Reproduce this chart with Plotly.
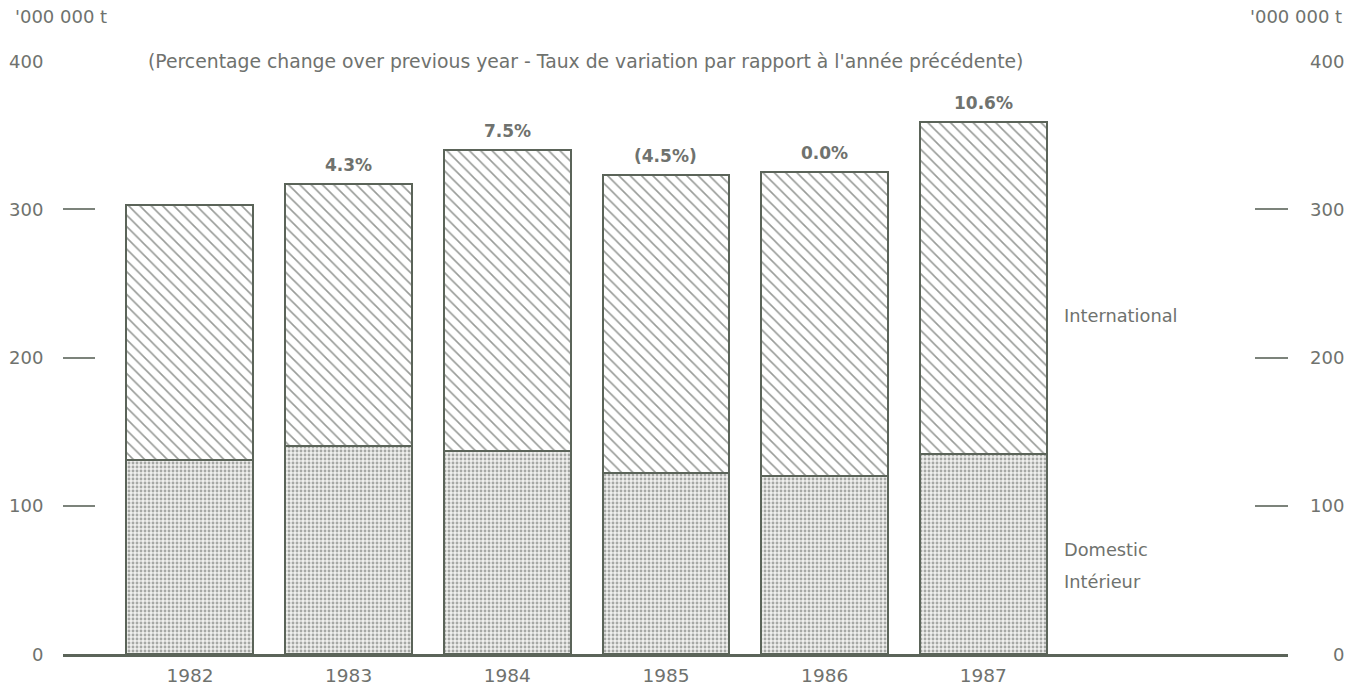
import plotly.graph_objects as go

years = [1982, 1983, 1984, 1985, 1986, 1987]
domestic = [131, 140, 137, 122, 120, 135]
international = [172, 177, 203, 201, 205, 224]
pct_labels = ["", "4.3%", "7.5%", "(4.5%)", "0.0%", "10.6%"]
y_ticks = [0, 100, 200, 300, 400]
unit_label = "'000 000 t"
subtitle = "(Percentage change over previous year - Taux de variation par rapport à l'année précédente)"

LINE = "#5b6459"
TEXT = "#6f726e"
FONT = "DejaVu Sans, Liberation Sans, sans-serif"

totals = [d + i for d, i in zip(domestic, international)]

# body margin removed via post_script, so figure pixels == window pixels
W, H = 1359, 689
ML, MR, MT, MB = 63, 1359 - 1288, 61, 689 - 654
pw = W - ML - MR
ph = H - MT - MB


def px(xs):
    return (xs - ML) / pw


def py(ys):
    return (H - MB - ys) / ph


fig = go.Figure()
fig.add_trace(go.Bar(
    x=years, y=domestic, width=0.8, name="Domestic",
    marker=dict(color="white", line=dict(color=LINE, width=2),
                pattern=dict(shape=".", fgcolor="#5e625d", bgcolor="#efefed",
                             size=4, solidity=0.4)),
))
fig.add_trace(go.Bar(
    x=years, y=international, width=0.8, name="International",
    marker=dict(color="white", line=dict(color=LINE, width=2),
                pattern=dict(shape="\\", fgcolor="#323831", bgcolor="white",
                             size=8, solidity=0.2)),
))
fig.add_trace(go.Scatter(x=[years[0]], y=[0], yaxis="y2", mode="markers",
                         marker=dict(opacity=0), showlegend=False, hoverinfo="skip"))

annotations = []
for x, t, lab in zip(years, totals, pct_labels):
    if lab:
        annotations.append(dict(x=x, y=t, xref="x", yref="y", text=f"<b>{lab}</b>",
                                showarrow=False, yanchor="bottom", yshift=7,
                                font=dict(size=17, color=TEXT, family=FONT)))
for v in y_ticks:
    annotations.append(dict(x=px(45), xref="paper", y=v, yref="y", text=str(v), showarrow=False,
                            xanchor="right", yanchor="middle",
                            font=dict(size=18, color=TEXT, family=FONT)))
    annotations.append(dict(x=px(1346), xref="paper", y=v, yref="y", text=str(v), showarrow=False,
                            xanchor="right", yanchor="middle",
                            font=dict(size=18, color=TEXT, family=FONT)))
annotations += [
    dict(x=px(13), y=py(16), xref="paper", yref="paper", text=unit_label, showarrow=False,
         xanchor="left", yanchor="middle", font=dict(size=18, color=TEXT, family=FONT)),
    dict(x=px(1344), y=py(16), xref="paper", yref="paper", text=unit_label, showarrow=False,
         xanchor="right", yanchor="middle", font=dict(size=18, color=TEXT, family=FONT)),
    dict(x=px(585), y=py(61), xref="paper", yref="paper", text=subtitle, showarrow=False,
         xanchor="center", yanchor="middle", font=dict(size=18.8, color=TEXT, family=FONT)),
    dict(x=px(1062), y=py(315), xref="paper", yref="paper", text="International", showarrow=False,
         xanchor="left", yanchor="middle", font=dict(size=17.8, color=TEXT, family=FONT)),
    dict(x=px(1062), y=py(549), xref="paper", yref="paper", text="Domestic", showarrow=False,
         xanchor="left", yanchor="middle", font=dict(size=17.8, color=TEXT, family=FONT)),
    dict(x=px(1062), y=py(581), xref="paper", yref="paper", text="Intérieur", showarrow=False,
         xanchor="left", yanchor="middle", font=dict(size=17.8, color=TEXT, family=FONT)),
]

fig.update_layout(
    width=W, height=H,
    margin=dict(l=ML, r=MR, t=MT, b=MB, pad=0, autoexpand=False),
    barmode="stack",
    showlegend=False,
    plot_bgcolor="white", paper_bgcolor="white",
    font=dict(family=FONT, color=TEXT),
    xaxis=dict(range=[1981.2, 1988.92], tickvals=years, ticktext=[str(y) for y in years],
               showgrid=False, zeroline=False, showline=True, linecolor=LINE, linewidth=3,
               ticks="", ticklabelstandoff=3, automargin=False,
               tickfont=dict(size=18.5, color=TEXT, family=FONT)),
    yaxis=dict(range=[0, 400], tickvals=y_ticks, showticklabels=False, showgrid=False,
               zeroline=False, showline=False, ticks="inside", ticklen=32, tickwidth=2,
               tickcolor="#7c837b", automargin=False),
    yaxis2=dict(range=[0, 400], overlaying="y", side="right", tickvals=y_ticks,
                showticklabels=False, showgrid=False, zeroline=False, showline=False,
                ticks="inside", ticklen=33, tickwidth=2, tickcolor="#7c837b", automargin=False),
    annotations=annotations,
)

fig.write_html("out.html", config={"displayModeBar": False},
               post_script="document.body.style.margin='0';document.body.style.overflow='hidden';")
